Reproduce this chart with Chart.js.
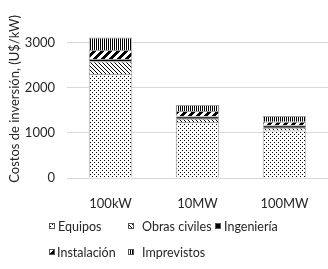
<!DOCTYPE html>
<html>
<head>
<meta charset="utf-8">
<script src="https://cdn.jsdelivr.net/npm/chart.js@4"></script>
<style>
html, body { margin: 0; padding: 0; background: #fff; }
</style>
</head>
<body>
<canvas id="graficoCostos" width="328" height="269"></canvas>
<script>
// Datos del grafico
var categorias = ['100kW', '10MW', '100MW'];
var equipos = [2300, 1240, 1050];
var obrasCiviles = [280, 70, 60];
var ingenieria = [50, 55, 55];
var instalacion = [200, 120, 80];
var imprevistos = [280, 130, 125];
var ticksY = [0, 1000, 2000, 3000];

var fuente = 'Lato, "DejaVu Sans", sans-serif';
var colorTexto = '#262626';

// Tramas tipo Excel
function trama(tipo) {
    var c = document.createElement('canvas');
    var g = c.getContext('2d');
    if (tipo === 'puntos') {
        c.width = 4; c.height = 4;
        g.fillStyle = '#fff'; g.fillRect(0, 0, 4, 4);
        g.fillStyle = '#000';
        g.fillRect(0, 0, 1, 1); g.fillRect(2, 2, 1, 1);
    } else if (tipo === 'diagonal') {
        c.width = 4; c.height = 4;
        g.fillStyle = '#fff'; g.fillRect(0, 0, 4, 4);
        g.fillStyle = '#000';
        for (var i = 0; i < 4; i++) g.fillRect(i, i, 1, 1);
    } else if (tipo === 'solido') {
        c.width = 2; c.height = 2;
        g.fillStyle = '#000'; g.fillRect(0, 0, 2, 2);
    } else if (tipo === 'anchas') {
        c.width = 8; c.height = 8;
        g.fillStyle = '#fff'; g.fillRect(0, 0, 8, 8);
        g.fillStyle = '#000';
        for (var y = 0; y < 8; y++) {
            for (var k = 0; k < 4; k++) {
                var x = (7 - y + k + 8) % 8;
                g.fillRect(x, y, 1, 1);
            }
        }
    } else if (tipo === 'vertical') {
        c.width = 2; c.height = 1;
        g.fillStyle = '#fff'; g.fillRect(0, 0, 2, 1);
        g.fillStyle = '#000'; g.fillRect(0, 0, 1, 1);
    }
    return g.createPattern(c, 'repeat');
}

// Leyenda dibujada en dos filas
var cajasX = [49, 128, 215, 49, 128];
var textosX = [58, 142, 224, 57, 142];
var filaDe = [0, 0, 0, 1, 1];
var leyenda = {
    id: 'leyenda',
    afterDraw: function (chart) {
        var c = chart.ctx;
        chart.data.datasets.forEach(function (ds, i) {
            var y = filaDe[i] === 0 ? 226 : 252;
            c.save();
            c.fillStyle = ds.backgroundColor;
            c.fillRect(cajasX[i], y - 3, 6, 6);
            c.strokeStyle = '#555';
            c.lineWidth = 1;
            c.strokeRect(cajasX[i] + 0.5, y - 2.5, 5, 5);
            c.fillStyle = colorTexto;
            c.font = '12.5px ' + fuente;
            c.textBaseline = 'middle';
            c.fillText(ds.label, textosX[i], y + 1);
            c.restore();
        });
    }
};

var ctx = document.getElementById('graficoCostos').getContext('2d');

var data = {
    labels: categorias,
    datasets: [
        { label: 'Equipos', data: equipos, backgroundColor: trama('puntos') },
        { label: 'Obras civiles', data: obrasCiviles, backgroundColor: trama('diagonal') },
        { label: 'Ingeniería', data: ingenieria, backgroundColor: trama('solido') },
        { label: 'Instalación', data: instalacion, backgroundColor: trama('anchas') },
        { label: 'Imprevistos', data: imprevistos, backgroundColor: trama('vertical') }
    ]
};
data.datasets.forEach(function (ds) {
    ds.borderColor = '#a0a0a0';
    ds.borderWidth = 1;
    ds.barPercentage = 0.5;
    ds.categoryPercentage = 1;
});

var grafico = new Chart(ctx, {
    type: 'bar',
    data: data,
    options: {
        responsive: false,
        animation: false,
        layout: { padding: { top: 2, right: -5, bottom: 61, left: 0 } },
        plugins: {
            legend: { display: false },
            tooltip: { enabled: false }
        },
        scales: {
            x: {
                stacked: true,
                grid: { display: false },
                border: { display: false },
                ticks: { color: colorTexto, font: { family: fuente, size: 13 }, padding: 10 },
                afterFit: function (s) { s.height = 30; }
            },
            y: {
                stacked: true,
                min: 0,
                max: 3500,
                afterBuildTicks: function (s) {
                    s.ticks = ticksY.map(function (v) { return { value: v }; });
                },
                grid: { color: '#d9d9d9', drawTicks: false },
                border: { display: false },
                ticks: {
                    color: colorTexto,
                    font: { family: fuente, size: 13 },
                    padding: 12,
                    callback: function (v) { return String(v); }
                },
                title: {
                    display: true,
                    text: 'Costos de inversión, (U$/kW)',
                    color: colorTexto,
                    font: { family: fuente, size: 13 },
                    padding: { top: 7, bottom: 0 }
                },
                afterFit: function (s) { s.width = 67; }
            }
        }
    },
    plugins: [leyenda]
});
</script>
</body>
</html>
